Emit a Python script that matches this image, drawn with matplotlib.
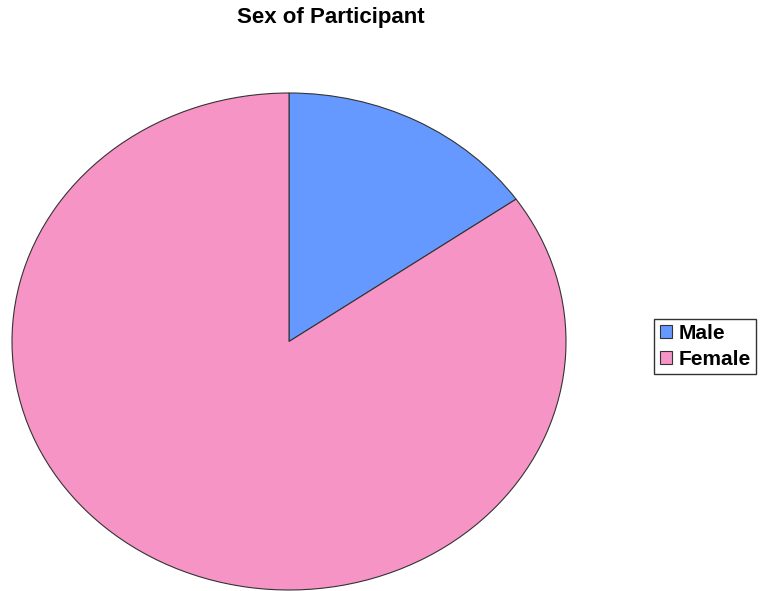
import matplotlib
matplotlib.use('Agg')
import matplotlib.pyplot as plt
from matplotlib.patches import Patch

plt.rcParams['font.family'] = ['Liberation Sans', 'DejaVu Sans']

# data
labels = ['Male', 'Female']
counts = [13, 72]
colors = ['#6699FF', '#F794C6']

fig = plt.figure(figsize=(7.65, 5.91), dpi=100)

# pie is stretched a bit wider than tall, like the original
ax = fig.add_axes([12/765, 1/591, 554/765, 497/591])
wedges, _ = ax.pie(counts, colors=colors, startangle=90, counterclock=False,
                   wedgeprops=dict(edgecolor='#333333', linewidth=0.8))
ax.set_aspect('auto')
ax.set_xlim(-1.0, 1.0)
ax.set_ylim(-1.0, 1.0)
ax.axis('off')

fig.text(331/765, 1 - 18/591, 'Sex of Participant', ha='center', va='center',
         fontsize=16, fontweight='bold')

handles = [Patch(facecolor=c, edgecolor='#333333', linewidth=0.8) for c in colors]
leg = fig.legend(handles, labels, loc='center', bbox_to_anchor=(705/765, 1 - 346.5/591),
                 frameon=True, fancybox=False, edgecolor='#333333', framealpha=1,
                 prop=dict(size=15, weight='bold'), handlelength=0.6, handleheight=0.6,
                 handletextpad=0.3, borderpad=0.25, labelspacing=0.35, borderaxespad=0)
leg.get_frame().set_linewidth(1.0)

fig.savefig('out.png', dpi=100)
